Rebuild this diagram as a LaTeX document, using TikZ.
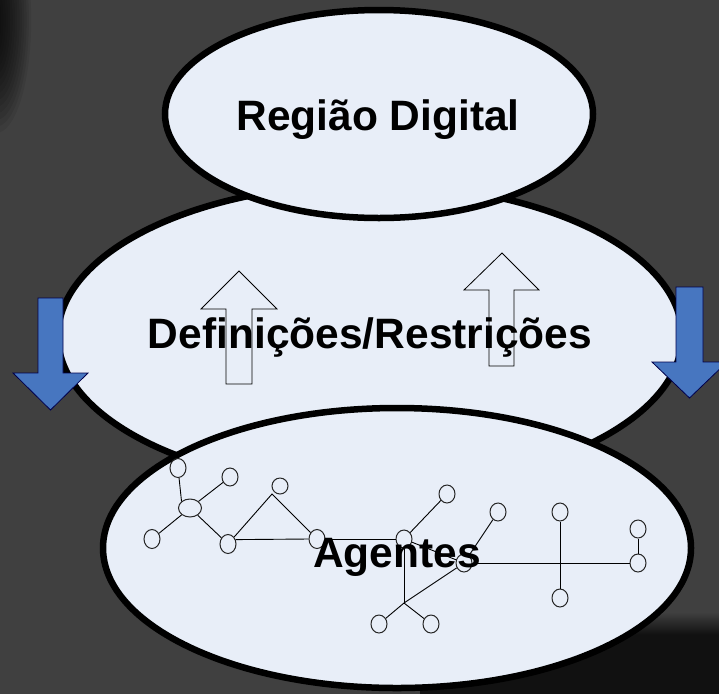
\documentclass[tikz,border=0pt]{standalone}
\usepackage{fontspec}
\setmainfont{Liberation Sans}
\usetikzlibrary{shapes.geometric}
\definecolor{bgc}{RGB}{64,64,64}
\definecolor{ellfill}{RGB}{232,238,248}
\definecolor{arrowblue}{RGB}{71,118,192}
\definecolor{darkshade}{RGB}{17,17,17}
\begin{document}
\begin{tikzpicture}[x=1pt,y=-1pt,
  bigell/.style={ellipse, draw=black, line width=6.5pt, fill=ellfill, inner sep=0pt},
  agentnode/.style={ellipse, draw=black!85, line width=1pt, minimum width=16pt, minimum height=18pt, inner sep=0pt},
  netlink/.style={line width=0.9pt, draw=black},
  bluearrow/.style={fill=arrowblue, draw=black!70!blue, line width=0.8pt, line join=miter},
  hollowarrow/.style={draw=black, line width=0.8pt, line join=miter},
  bigtext/.style={font=\fontsize{42.5}{50}\selectfont\bfseries, text=black, inner sep=0pt}]
\clip (0,0) rectangle (719,694);
\fill[bgc] (0,0) rectangle (719,694);
% soft shadows
\foreach \i in {1,...,14}
  \fill[black, opacity=0.075] (-4,20) ellipse ({3+2.3*\i} and {22+6.5*\i});
\fill[darkshade] (420,634) rectangle (719,694);
\shade[top color=bgc, bottom color=darkshade] (420,612) rectangle (719,634.5);
% big ellipses
\node[bigell, minimum width=624pt, minimum height=304pt] (mid) at (370,336) {};
\node[bigell, minimum width=428pt, minimum height=208pt] (top) at (379,114) {};
\node[bigell, minimum width=588pt, minimum height=280pt] (bot) at (397,548) {};
% blue arrows
\draw[bluearrow] (38,298) -- (63,298) -- (63,373) -- (88,373) -- (50.5,410) -- (13,373) -- (38,373) -- cycle;
\draw[bluearrow] (676,287) -- (703,287) -- (703,362) -- (727,362) -- (689.5,398) -- (652,362) -- (676,362) -- cycle;
% hollow arrows
\draw[hollowarrow] (226,384) -- (226,309) -- (201,309) -- (239,271) -- (277,309) -- (252,309) -- (252,384) -- cycle;
\draw[hollowarrow] (489,366) -- (489,290) -- (464,290) -- (502,253) -- (539,290) -- (514,290) -- (514,366) -- cycle;
% network of agents
\node[agentnode, minimum height=19pt] (n1) at (178,468) {};
\node[agentnode] (n2) at (230,477) {};
\node[agentnode, minimum width=23pt] (n3) at (190,508) {};
\node[agentnode, minimum height=19pt] (n4) at (152,539) {};
\node[agentnode, minimum height=19pt] (n5) at (228,544) {};
\node[agentnode, minimum height=16pt] (n6) at (280,486) {};
\node[agentnode, minimum height=19pt] (n7) at (317,539) {};
\node[agentnode] (n8) at (404,539) {};
\node[agentnode] (n9) at (447,494) {};
\node[agentnode] (n10) at (498,512) {};
\node[agentnode] (n11) at (464,563) {};
\node[agentnode] (n12) at (379,624) {};
\node[agentnode] (n13) at (431,624) {};
\node[agentnode] (n14) at (560,512) {};
\node[agentnode] (n15) at (638,563) {};
\node[agentnode] (n16) at (560,598) {};
\node[agentnode] (n17) at (638,529) {};
\coordinate (a1) at (272,494);
\coordinate (j1) at (404,603);
\draw[netlink] (n1) -- (n3.north west);
\draw[netlink] (n3) -- (n2);
\draw[netlink] (n3) -- (n4);
\draw[netlink] (n3) -- (n5);
\draw[netlink] (n5) -- (a1) -- (n7);
\draw[netlink] (n5.30) -- (n7.west);
\draw[netlink] (n7) -- (n8);
\draw[netlink] (n8) -- (n9);
\draw[netlink] (n8) -- (n11);
\draw[netlink] (n10) -- (n11);
\draw[netlink] (n8) -- (j1);
\draw[netlink] (j1) -- (n11);
\draw[netlink] (j1) -- (n12);
\draw[netlink] (j1) -- (n13);
\draw[netlink] (n11) -- (n15);
\draw[netlink] (n14) -- (n16);
\draw[netlink] (n17) -- (n15);
% texts
\node[bigtext, anchor=base] (t1) at (378,130) {Região Digital};
\node[bigtext, anchor=base] (t2) at (370,348) {Definições/Restrições};
\node[bigtext, anchor=base] (t3) at (397,567) {Agentes};
\end{tikzpicture}
\end{document}
